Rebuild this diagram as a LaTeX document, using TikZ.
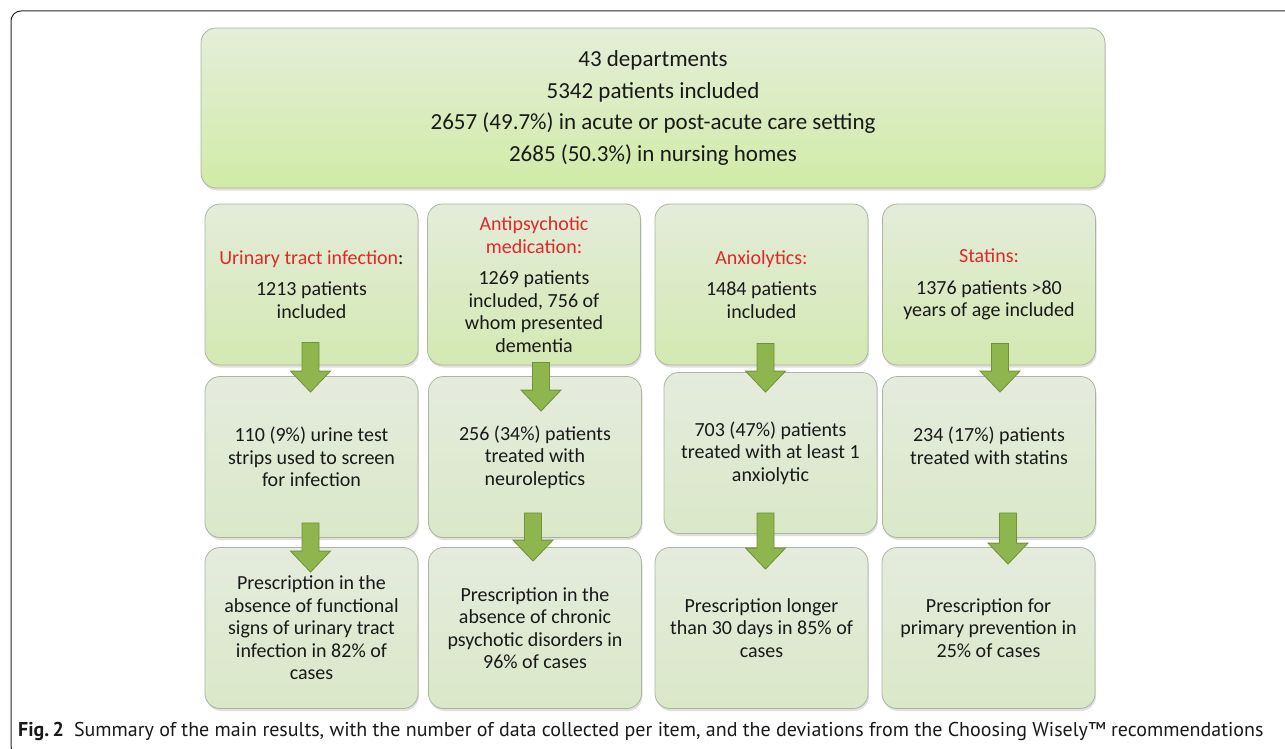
\documentclass[tikz,border=0pt]{standalone}
\usepackage{fontspec}
\setmainfont{Carlito}
\newfontfamily\capfont{PT Sans}
\usetikzlibrary{calc,shadows}
\definecolor{frameline}{RGB}{40,40,40}
\definecolor{boxline}{RGB}{172,180,162}
\definecolor{topgreen}{RGB}{229,238,218}
\definecolor{botgreen}{RGB}{208,235,166}
\definecolor{itemtop}{RGB}{228,236,218}
\definecolor{itembot}{RGB}{211,233,178}
\definecolor{paletop}{RGB}{229,235,222}
\definecolor{palebot}{RGB}{218,232,200}
\definecolor{arrowfill}{RGB}{143,181,78}
\definecolor{arrowline}{RGB}{112,146,58}
\definecolor{itemred}{RGB}{225,40,40}
\definecolor{bodytext}{RGB}{25,25,25}
\newcommand\colfont{\fontsize{20}{22.5}\selectfont}
\newcommand\totalfont{\fontsize{23}{31.5}\selectfont}
\newcommand\itemname[1]{{\color{itemred}#1}}
\newcommand\greenarrow[2]{%
    \path[flow arrow] let \p1=#1, \p2=#2 in
        (\x1-8.5pt,\y1) -- (\x1+8.5pt,\y1) -- (\x1+8.5pt,\y2+21pt) -- (\x1+20pt,\y2+21pt)
        -- (\x1,\y2) -- (\x1-20pt,\y2+21pt) -- (\x1-8.5pt,\y2+21pt) -- cycle;}
\tikzset{
    box/.style={draw=boxline, line width=0.8pt, rounded corners=15pt, align=center,
        text=bodytext, inner sep=4pt, minimum width=213pt, minimum height=161pt,
        drop shadow={shadow xshift=1pt, shadow yshift=-2.5pt, opacity=0.25}},
    item box/.style={box, top color=itemtop, bottom color=itembot, font=\colfont},
    result box/.style={box, top color=paletop, bottom color=palebot, font=\colfont},
    flow arrow/.style={fill=arrowfill, draw=arrowline, line width=0.8pt, line join=miter}
}
\begin{document}
\begin{tikzpicture}[x=1pt,y=-1pt]
    \useasboundingbox (0,0) rectangle (1285,749);
    \begin{scope}
        \clip (0,0) rectangle (1285,749);
        \draw[frameline, line width=1pt, rounded corners=10pt] (1300,11) -- (11,11) -- (11,756) -- (1300,756);
    \end{scope}

    \node[box, top color=topgreen, bottom color=botgreen, minimum width=904pt, minimum height=160pt, font=\totalfont] (total) at (653,108)
        {43 departments\\5342 patients included\\2657 (49.7\%) in acute or post-acute care setting\\2685 (50.3\%) in nursing homes};

    % items
    \node[item box] (UTI) at (311.5,284.5) {\itemname{Urinary tract infection}:\\[9pt]1213 patients\\included};
    \node[item box] (AP) at (534,284.5) {\itemname{Antipsychotic}\\\itemname{medication:}\\[9pt]1269 patients\\included, 756 of\\whom presented\\dementia};
    \node[item box] (AX) at (761.5,284.5) {\itemname{Anxiolytics:}\\[9pt]1484 patients\\included};
    \node[item box] (ST) at (989,284.5) {\itemname{Statins:}\\[9pt]1376 patients >80\\years of age included};

    % treated
    \node[result box] (UTI2) at (311.5,457) {110 (9\%) urine test\\strips used to screen\\for infection};
    \node[result box] (AP2) at (535,457) {256 (34\%) patients\\treated with\\neuroleptics};
    \node[result box] (AX2) at (770.5,453) {703 (47\%) patients\\treated with at least 1\\anxiolytic};
    \node[result box] (ST2) at (989,457) {234 (17\%) patients\\treated with statins\\\mbox{}};

    % deviations
    \node[result box] (UTI3) at (311.5,628) {Prescription in the\\absence of functional\\signs of urinary tract\\infection in 82\% of\\cases};
    \node[result box] (AP3) at (535,628) {Prescription in the\\absence of chronic\\psychotic disorders in\\96\% of cases};
    \node[result box] (AX3) at (761.5,628) {Prescription longer\\than 30 days in 85\% of\\cases};
    \node[result box] (ST3) at (988.5,628) {Prescription for\\primary prevention in\\25\% of cases};

    \greenarrow{([xshift=-1pt,yshift=23pt]UTI.south)}{([yshift=-16pt]UTI2.north)}
    \greenarrow{([xshift=7pt,yshift=3pt]AP.south)}{([yshift=-35pt]AP2.north)}
    \greenarrow{([xshift=4pt,yshift=22pt]AX.south)}{([yshift=-20pt]AX2.north)}
    \greenarrow{([xshift=11pt,yshift=22pt]ST.south)}{([yshift=-16pt]ST2.north)}
    \greenarrow{([xshift=-1pt,yshift=15pt]UTI2.south)}{([yshift=-25pt]UTI3.north)}
    \greenarrow{([xshift=-2pt,yshift=25pt]AP2.south)}{([yshift=-14pt]AP3.north)}
    \greenarrow{([xshift=-5pt,yshift=21pt]AX2.south)}{([yshift=-22pt]AX3.north)}
    \greenarrow{([xshift=19pt,yshift=25pt]ST2.south)}{([yshift=-17pt]ST3.north)}

    \node[anchor=base west, inner sep=0pt, text=bodytext, font=\capfont\fontsize{20}{22}\selectfont] (caption) at (18,736)
        {\textbf{Fig.\,2}\enspace Summary of the main results, with the number of data collected per item, and the deviations from the Choosing Wisely™ recommendations};
\end{tikzpicture}
\end{document}
